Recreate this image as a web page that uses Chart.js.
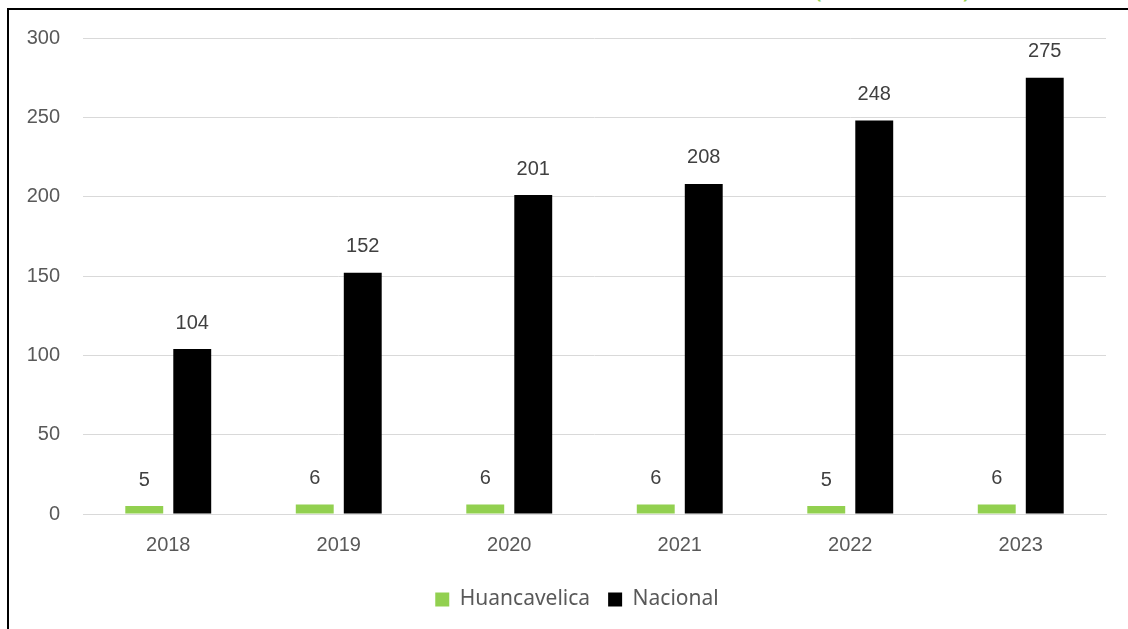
<!DOCTYPE html>
<html>
<head>
<meta charset="utf-8">
<script src="https://cdn.jsdelivr.net/npm/chart.js@4"></script>
<style>
  html, body { margin: 0; padding: 0; background: #fff; overflow: hidden; }
  #wrap { position: relative; width: 1128px; height: 629px; }
  #frame {
    position: absolute; left: 7px; top: 8px; width: 1140px; height: 640px;
    border-top: 2px solid #000; border-left: 2px solid #000;
  }
  #cutTitle {
    position: absolute; left: 814px; top: -31px; color: #92d050;
    font: 26px "Noto Sans", sans-serif; white-space: nowrap;
  }
  canvas { position: absolute; left: 0; top: 0; }
</style>
</head>
<body>
<div id="wrap">
  <div id="cutTitle">(2018 - 2023)</div>
  <div id="frame"></div>
  <canvas id="myChart" width="1128" height="629"></canvas>
</div>
<script>
const years = ["2018", "2019", "2020", "2021", "2022", "2023"];
const huancavelica = [5, 6, 6, 6, 5, 6];
const nacional = [104, 152, 201, 208, 248, 275];
const yTicks = [0, 50, 100, 150, 200, 250, 300];

// value labels above each bar
const barLabels = {
  id: "barLabels",
  afterDatasetsDraw(chart) {
    const ctx = chart.ctx;
    ctx.save();
    ctx.font = "20px 'Liberation Sans', Arial, sans-serif";
    ctx.fillStyle = "#404040";
    ctx.textAlign = "center";
    ctx.textBaseline = "middle";
    chart.data.datasets.forEach((ds, di) => {
      const meta = chart.getDatasetMeta(di);
      meta.data.forEach((bar, i) => {
        ctx.fillText(String(ds.data[i]), bar.x, bar.y - 26);
      });
    });
    ctx.restore();
  },
};

// legend sits a bit right of the canvas centre in the original
const legendShift = {
  id: "legendShift",
  afterLayout(chart) {
    if (chart.legend) {
      chart.legend.left += 24;
      chart.legend.right += 24;
    }
  },
};

const ctx = document.getElementById("myChart").getContext("2d");

const myChart = new Chart(ctx, {
  type: "bar",
  data: {
    labels: years,
    datasets: [
      {
        label: "Huancavelica",
        data: huancavelica,
        backgroundColor: "#92d050",
        categoryPercentage: 0.563,
        barPercentage: 0.79,
      },
      {
        label: "Nacional",
        data: nacional,
        backgroundColor: "#000000",
        categoryPercentage: 0.563,
        barPercentage: 0.79,
      },
    ],
  },
  options: {
    responsive: false,
    animation: false,
    layout: {
      padding: { top: 38, right: 22, bottom: 9, left: 0 },
    },
    scales: {
      x: {
        grid: { display: false },
        border: { color: "#d9d9d9", width: 1 },
        ticks: {
          color: "#595959",
          font: { family: "'Liberation Sans', Arial, sans-serif", size: 20 },
          padding: 11,
        },
        afterFit(scale) {
          scale.height = 57;
        },
      },
      y: {
        min: 0,
        max: 300,
        afterBuildTicks(scale) {
          scale.ticks = yTicks.map((v) => ({ value: v }));
        },
        grid: { color: "#d9d9d9", drawTicks: false },
        border: { display: false },
        ticks: {
          color: "#595959",
          font: { family: "'Liberation Sans', Arial, sans-serif", size: 20 },
          padding: 23,
        },
        afterFit(scale) {
          scale.width = 83;
        },
      },
    },
    plugins: {
      tooltip: { enabled: false },
      legend: {
        position: "bottom",
        labels: {
          color: "#595959",
          font: { family: "'Noto Sans', sans-serif", size: 21 },
          boxWidth: 14,
          boxHeight: 14,
          padding: 18,
        },
      },
    },
  },
  plugins: [barLabels, legendShift],
});
</script>
</body>
</html>
